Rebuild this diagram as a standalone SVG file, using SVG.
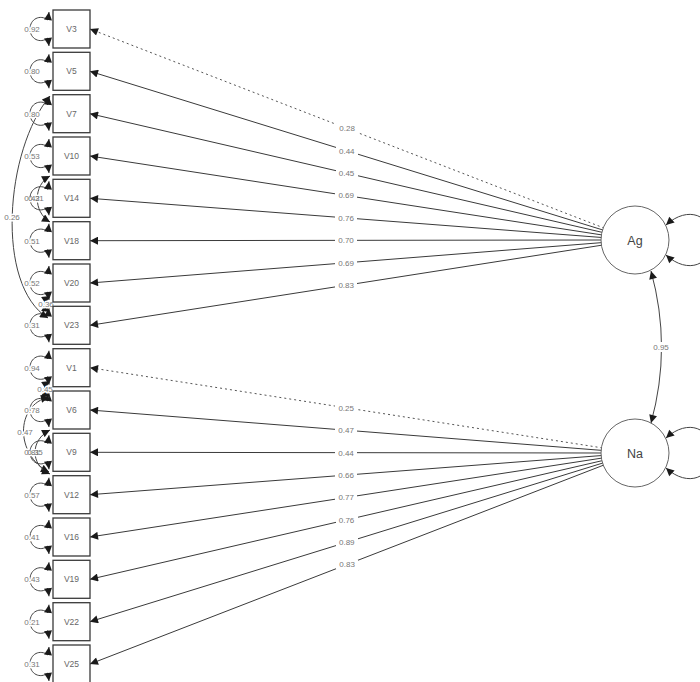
<svg xmlns="http://www.w3.org/2000/svg" width="700" height="682" viewBox="0 0 700 682">
<defs>
<marker id="ah" viewBox="0 0 10 10" refX="10" refY="5" markerWidth="9" markerHeight="8" markerUnits="userSpaceOnUse" orient="auto-start-reverse"><path d="M0,0 L10,5 L0,10 z" fill="#1a1a1a"/></marker>
</defs>
<style>
.e{stroke:#3a3a3a;stroke-width:1;fill:none}
.d{stroke:#555;stroke-width:1;fill:none;stroke-dasharray:2,3}
.l{stroke:#444;stroke-width:1;fill:none}
.a{marker-end:url(#ah)}
.b{marker-start:url(#ah);marker-end:url(#ah)}
.t{font-family:"Liberation Sans",Arial,sans-serif;font-size:8px;fill:#777;text-anchor:middle}
.h{stroke:#fff;stroke-width:3;paint-order:stroke;stroke-linejoin:round}
.bg{fill:#fff}
.box{fill:#fff;stroke:#3a3a3a;stroke-width:1.3}
.bt{font-family:"Liberation Sans",Arial,sans-serif;font-size:8.5px;fill:#666;text-anchor:middle}
.cir{fill:#fff;stroke:#666;stroke-width:1}
.ct{font-family:"Liberation Sans",Arial,sans-serif;font-size:12.5px;fill:#444;text-anchor:middle}
</style>
<rect width="700" height="682" fill="#fff"/>
<g id="connectors">
<line class="d a" x1="604.2" y1="228.1" x2="90" y2="29"/>
<line class="e a" x1="603.5" y1="230.2" x2="90" y2="71.3"/>
<line class="e a" x1="602.9" y1="232.5" x2="90" y2="113.7"/>
<line class="e a" x1="602.4" y1="235" x2="90" y2="156"/>
<line class="e a" x1="602.1" y1="237.5" x2="90" y2="198.3"/>
<line class="e a" x1="602" y1="240" x2="90" y2="240.7"/>
<line class="e a" x1="602.1" y1="242.6" x2="90" y2="283"/>
<line class="e a" x1="602.4" y1="245.1" x2="90" y2="325.3"/>
<line class="d a" x1="602.4" y1="447.9" x2="90" y2="367.7"/>
<line class="e a" x1="602.1" y1="450.4" x2="90" y2="410"/>
<line class="e a" x1="602" y1="453" x2="90" y2="452.3"/>
<line class="e a" x1="602.1" y1="455.5" x2="90" y2="494.7"/>
<line class="e a" x1="602.4" y1="458" x2="90" y2="537"/>
<line class="e a" x1="602.9" y1="460.5" x2="90" y2="579.3"/>
<line class="e a" x1="603.5" y1="462.8" x2="90" y2="621.7"/>
<line class="e a" x1="604.2" y1="464.9" x2="90" y2="664"/>
<path class="l b" d="M49 46 L48 38 C40 44 30 39 30 29 C30 19 40 14 48 20 L49 12"/>
<path class="l b" d="M49 88.3 L48 80.3 C40 86.3 30 81.3 30 71.3 C30 61.3 40 56.3 48 62.3 L49 54.3"/>
<path class="l b" d="M49 130.7 L48 122.7 C40 128.7 30 123.7 30 113.7 C30 103.7 40 98.7 48 104.7 L49 96.7"/>
<path class="l b" d="M49 173 L48 165 C40 171 30 166 30 156 C30 146 40 141 48 147 L49 139"/>
<path class="l b" d="M49 215.3 L48 207.3 C40 213.3 30 208.3 30 198.3 C30 188.3 40 183.3 48 189.3 L49 181.3"/>
<path class="l b" d="M49 257.7 L48 249.7 C40 255.7 30 250.7 30 240.7 C30 230.7 40 225.7 48 231.7 L49 223.7"/>
<path class="l b" d="M49 300 L48 292 C40 298 30 293 30 283 C30 273 40 268 48 274 L49 266"/>
<path class="l b" d="M49 342.3 L48 334.3 C40 340.3 30 335.3 30 325.3 C30 315.3 40 310.3 48 316.3 L49 308.3"/>
<path class="l b" d="M49 384.7 L48 376.7 C40 382.7 30 377.7 30 367.7 C30 357.7 40 352.7 48 358.7 L49 350.7"/>
<path class="l b" d="M49 427 L48 419 C40 425 30 420 30 410 C30 400 40 395 48 401 L49 393"/>
<path class="l b" d="M49 469.3 L48 461.3 C40 467.3 30 462.3 30 452.3 C30 442.3 40 437.3 48 443.3 L49 435.3"/>
<path class="l b" d="M49 511.7 L48 503.7 C40 509.7 30 504.7 30 494.7 C30 484.7 40 479.7 48 485.7 L49 477.7"/>
<path class="l b" d="M49 554 L48 546 C40 552 30 547 30 537 C30 527 40 522 48 528 L49 520"/>
<path class="l b" d="M49 596.3 L48 588.3 C40 594.3 30 589.3 30 579.3 C30 569.3 40 564.3 48 570.3 L49 562.3"/>
<path class="l b" d="M49 638.7 L48 630.7 C40 636.7 30 631.7 30 621.7 C30 611.7 40 606.7 48 612.7 L49 604.7"/>
<path class="l b" d="M49 681 L48 673 C40 679 30 674 30 664 C30 654 40 649 48 655 L49 647"/>
<path class="l b" d="M50 96 C5 150 -5 285 48 318"/>
<path class="l b" d="M50 296 Q38 304 50 312"/>
<path class="l b" d="M50 176 C33 185 33 212 50 222"/>
<path class="l b" d="M50 381 Q38 389 50 397"/>
<path class="l b" d="M49 397 C15 405 15 455 49 472"/>
<path class="l b" d="M50 430 C30 440 30 465 50 474"/>
<path class="l b" d="M666 225 C688 205 712 215 712 240 C712 265 688 275 666 255"/>
<path class="l b" d="M666 438 C688 418 712 428 712 453 C712 478 688 488 666 468"/>
<path class="l b" d="M651 271 Q672 347 651 423"/>
</g>
<g id="labels">
<rect class="bg" x="336" y="123.5" width="22" height="10"/><text class="t" x="347.1" y="131.3">0.28</text>
<rect class="bg" x="336" y="145.8" width="22" height="10"/><text class="t" x="346.8" y="153.6">0.44</text>
<rect class="bg" x="336" y="168.1" width="22" height="10"/><text class="t" x="346.5" y="175.9">0.45</text>
<rect class="bg" x="335" y="190.5" width="22" height="10"/><text class="t" x="346.2" y="198.3">0.69</text>
<rect class="bg" x="335" y="212.9" width="22" height="10"/><text class="t" x="346.1" y="220.7">0.76</text>
<rect class="bg" x="335" y="235.3" width="22" height="10"/><text class="t" x="346" y="243.1">0.70</text>
<rect class="bg" x="335" y="257.8" width="22" height="10"/><text class="t" x="346.1" y="265.6">0.69</text>
<rect class="bg" x="335" y="280.2" width="22" height="10"/><text class="t" x="346.2" y="288">0.83</text>
<rect class="bg" x="335" y="402.8" width="22" height="10"/><text class="t" x="346.2" y="410.6">0.25</text>
<rect class="bg" x="335" y="425.2" width="22" height="10"/><text class="t" x="346.1" y="433">0.47</text>
<rect class="bg" x="335" y="447.7" width="22" height="10"/><text class="t" x="346" y="455.5">0.44</text>
<rect class="bg" x="335" y="470.1" width="22" height="10"/><text class="t" x="346.1" y="477.9">0.66</text>
<rect class="bg" x="335" y="492.5" width="22" height="10"/><text class="t" x="346.2" y="500.3">0.77</text>
<rect class="bg" x="336" y="514.9" width="22" height="10"/><text class="t" x="346.5" y="522.7">0.76</text>
<rect class="bg" x="336" y="537.2" width="22" height="10"/><text class="t" x="346.8" y="545">0.89</text>
<rect class="bg" x="336" y="559.5" width="22" height="10"/><text class="t" x="347.1" y="567.3">0.83</text>
<rect class="bg" x="651" y="342" width="20" height="10"/><text class="t" x="661" y="349.8">0.95</text>
<text class="t h" x="32" y="31.8">0.92</text>
<text class="t h" x="32" y="74.1">0.80</text>
<text class="t h" x="32" y="116.5">0.80</text>
<text class="t h" x="32" y="158.8">0.53</text>
<text class="t h" x="32" y="201.1">0.42</text>
<text class="t h" x="32" y="243.5">0.51</text>
<text class="t h" x="32" y="285.8">0.52</text>
<text class="t h" x="32" y="328.1">0.31</text>
<text class="t h" x="32" y="370.5">0.94</text>
<text class="t h" x="32" y="412.8">0.78</text>
<text class="t h" x="32" y="455.1">0.81</text>
<text class="t h" x="32" y="497.5">0.57</text>
<text class="t h" x="32" y="539.8">0.41</text>
<text class="t h" x="32" y="582.1">0.43</text>
<text class="t h" x="32" y="624.5">0.21</text>
<text class="t h" x="32" y="666.8">0.31</text>
<text class="t h" x="12" y="220">0.26</text>
<text class="t h" x="46" y="306.8">0.36</text>
<text class="t" x="36" y="201.1">0.31</text>
<text class="t h" x="45" y="391.5">0.45</text>
<text class="t h" x="25" y="434.8">0.47</text>
<text class="t" x="35" y="455.1">0.35</text>
</g>
<g id="V3"><rect class="box" x="53" y="10" width="37" height="38"/><text class="bt" x="71.5" y="32">V3</text></g>
<g id="V5"><rect class="box" x="53" y="52.3" width="37" height="38"/><text class="bt" x="71.5" y="74.3">V5</text></g>
<g id="V7"><rect class="box" x="53" y="94.7" width="37" height="38"/><text class="bt" x="71.5" y="116.7">V7</text></g>
<g id="V10"><rect class="box" x="53" y="137" width="37" height="38"/><text class="bt" x="71.5" y="159">V10</text></g>
<g id="V14"><rect class="box" x="53" y="179.3" width="37" height="38"/><text class="bt" x="71.5" y="201.3">V14</text></g>
<g id="V18"><rect class="box" x="53" y="221.7" width="37" height="38"/><text class="bt" x="71.5" y="243.7">V18</text></g>
<g id="V20"><rect class="box" x="53" y="264" width="37" height="38"/><text class="bt" x="71.5" y="286">V20</text></g>
<g id="V23"><rect class="box" x="53" y="306.3" width="37" height="38"/><text class="bt" x="71.5" y="328.3">V23</text></g>
<g id="V1"><rect class="box" x="53" y="348.7" width="37" height="38"/><text class="bt" x="71.5" y="370.7">V1</text></g>
<g id="V6"><rect class="box" x="53" y="391" width="37" height="38"/><text class="bt" x="71.5" y="413">V6</text></g>
<g id="V9"><rect class="box" x="53" y="433.3" width="37" height="38"/><text class="bt" x="71.5" y="455.3">V9</text></g>
<g id="V12"><rect class="box" x="53" y="475.7" width="37" height="38"/><text class="bt" x="71.5" y="497.7">V12</text></g>
<g id="V16"><rect class="box" x="53" y="518" width="37" height="38"/><text class="bt" x="71.5" y="540">V16</text></g>
<g id="V19"><rect class="box" x="53" y="560.3" width="37" height="38"/><text class="bt" x="71.5" y="582.3">V19</text></g>
<g id="V22"><rect class="box" x="53" y="602.7" width="37" height="38"/><text class="bt" x="71.5" y="624.7">V22</text></g>
<g id="V25"><rect class="box" x="53" y="645" width="37" height="38"/><text class="bt" x="71.5" y="667">V25</text></g>
<g id="Ag"><circle class="cir" cx="635" cy="240" r="34"/><text class="ct" x="635" y="244.5">Ag</text></g>
<g id="Na"><circle class="cir" cx="635" cy="453" r="34"/><text class="ct" x="635" y="457.5">Na</text></g>
</svg>
